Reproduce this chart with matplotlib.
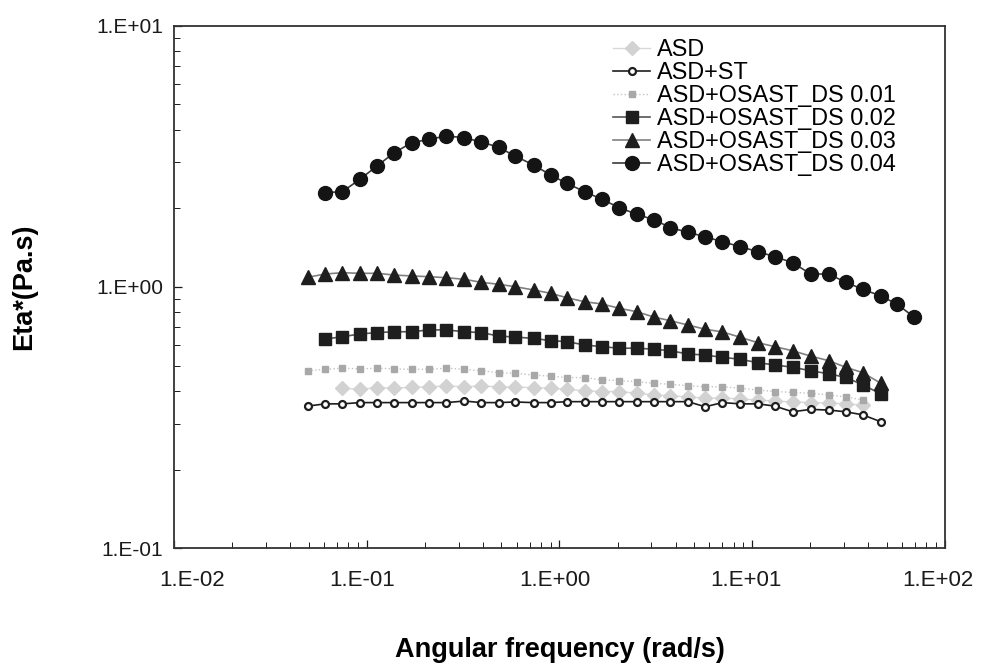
import numpy as np
import matplotlib
matplotlib.use('Agg')
import matplotlib.pyplot as plt
from matplotlib.ticker import LogLocator, NullFormatter, FixedLocator
from matplotlib.transforms import ScaledTranslation

plt.rcParams['font.family'] = ['Liberation Sans', 'DejaVu Sans']

# angular frequency grid (rad/s)
omega = [0.0494, 0.0607, 0.0747, 0.0923, 0.113, 0.139, 0.171, 0.211, 0.259,
         0.321, 0.393, 0.484, 0.587, 0.734, 0.899, 1.09, 1.35, 1.66, 2.04,
         2.52, 3.11, 3.76, 4.64, 5.70, 7.00, 8.67, 10.7, 13.1, 16.2, 20.1,
         25.0, 30.5, 37.5, 46.4, 56.2, 69.3]

# complex viscosity Eta* (Pa.s)
eta_asd = [0.410, 0.406, 0.412, 0.410, 0.413, 0.415, 0.418, 0.415, 0.418, 0.415,
           0.414, 0.412, 0.410, 0.406, 0.401, 0.398, 0.398, 0.392, 0.386, 0.383,
           0.380, 0.375, 0.376, 0.373, 0.369, 0.366, 0.363, 0.361, 0.360, 0.357,
           0.353]                                    # omega[2:33]
eta_st = [0.350, 0.357, 0.357, 0.361, 0.361, 0.361, 0.361, 0.361, 0.361, 0.366,
          0.361, 0.361, 0.363, 0.361, 0.361, 0.364, 0.364, 0.364, 0.364, 0.364,
          0.364, 0.364, 0.364, 0.348, 0.361, 0.357, 0.357, 0.350, 0.333, 0.340,
          0.338, 0.333, 0.324, 0.305]                # omega[0:34]
eta_ds01 = [0.478, 0.484, 0.489, 0.486, 0.489, 0.486, 0.484, 0.484, 0.489, 0.484,
            0.478, 0.470, 0.467, 0.460, 0.456, 0.450, 0.450, 0.441, 0.438, 0.434,
            0.428, 0.424, 0.419, 0.415, 0.415, 0.410, 0.403, 0.398, 0.395, 0.392,
            0.386, 0.380, 0.369]                     # omega[0:33]
eta_ds02 = [0.632, 0.645, 0.661, 0.669, 0.674, 0.674, 0.685, 0.685, 0.674, 0.669,
            0.649, 0.643, 0.636, 0.623, 0.618, 0.600, 0.591, 0.583, 0.583, 0.578,
            0.570, 0.554, 0.549, 0.538, 0.529, 0.513, 0.503, 0.493, 0.478, 0.465,
            0.451, 0.422, 0.390]                     # omega[1:34]
eta_ds03 = [1.089, 1.121, 1.134, 1.128, 1.128, 1.111, 1.102, 1.095, 1.085, 1.070,
            1.042, 1.024, 1.003, 0.974, 0.946, 0.910, 0.878, 0.861, 0.829, 0.804,
            0.766, 0.743, 0.715, 0.689, 0.673, 0.642, 0.612, 0.591, 0.570, 0.544,
            0.522, 0.493, 0.470, 0.428]              # omega[0:34]
eta_ds04 = [2.296, 2.316, 2.584, 2.905, 3.266, 3.566, 3.675, 3.783, 3.727, 3.588,
            3.424, 3.172, 2.930, 2.683, 2.494, 2.316, 2.166, 2.012, 1.897, 1.805,
            1.687, 1.619, 1.557, 1.490, 1.426, 1.365, 1.306, 1.239, 1.121, 1.121,
            1.042, 0.980, 0.924, 0.861, 0.766]       # omega[1:36]

labels = ['ASD', 'ASD+ST', 'ASD+OSAST_DS 0.01', 'ASD+OSAST_DS 0.02',
          'ASD+OSAST_DS 0.03', 'ASD+OSAST_DS 0.04']
xticklabels = ['1.E-02', '1.E-01', '1.E+00', '1.E+01', '1.E+02']
yticklabels = ['1.E-01', '1.E+00', '1.E+01']

fig = plt.figure(figsize=(9.92, 6.67), dpi=100)
ax = fig.add_axes([0.1754, 0.178, 0.7772, 0.7835])

# ___ series ___
ax.plot(omega[2:33], eta_asd, color='#d8d8d8', lw=1.0, marker='D', ms=7,
        mfc='#d2d2d2', mec='#d2d2d2', label=labels[0])
ax.plot(omega[0:34], eta_st, color='#1e1e1e', lw=1.2, marker='o', ms=5,
        mfc='white', mec='#1e1e1e', mew=1.6, label=labels[1])
ax.plot(omega[0:33], eta_ds01, color='#c4c4c4', lw=1.0, ls=':', marker='s', ms=4.5,
        mfc='#a8a8a8', mec='#a8a8a8', label=labels[2])
ax.plot(omega[1:34], eta_ds02, color='#555555', lw=1.2, marker='s', ms=8.5,
        mfc='#1e1e1e', mec='#1e1e1e', label=labels[3])
ax.plot(omega[0:34], eta_ds03, color='#808080', lw=1.2, marker='^', ms=9.5,
        mfc='#1e1e1e', mec='#1e1e1e', label=labels[4])
ax.plot(omega[1:36], eta_ds04, color='#3a3a3a', lw=1.2, marker='o', ms=10,
        mfc='#141414', mec='#141414', label=labels[5])

# ___ axes ___
ax.set_xscale('log')
ax.set_yscale('log')
ax.set_xlim(1e-2, 1e2)
ax.set_ylim(1e-1, 1e1)

ax.xaxis.set_major_locator(FixedLocator([1e-2, 1e-1, 1e0, 1e1, 1e2]))
ax.set_xticklabels(xticklabels)
ax.yaxis.set_major_locator(FixedLocator([1e-1, 1e0, 1e1]))
ax.set_yticklabels(yticklabels)
ax.xaxis.set_minor_locator(LogLocator(base=10, subs=np.arange(2, 10)))
ax.yaxis.set_minor_locator(LogLocator(base=10, subs=np.arange(2, 10)))
ax.xaxis.set_minor_formatter(NullFormatter())
ax.yaxis.set_minor_formatter(NullFormatter())

ax.tick_params(which='both', direction='in', top=False, right=False,
               colors='#1a1a1a')
ax.tick_params(axis='x', labelsize=16, pad=16)
ax.tick_params(axis='y', labelsize=15, pad=8)
ax.tick_params(which='major', length=6, width=0.9)
ax.tick_params(which='minor', length=4, width=0.7)
for sp in ax.spines.values():
    sp.set_linewidth(1.3)
    sp.set_color('#333333')

# small shifts of the x tick labels, like in the original
shifts = [18, -5, -5, -6, -7]
for lab, dx in zip(ax.get_xticklabels(), shifts):
    lab.set_transform(lab.get_transform() + ScaledTranslation(dx / 100, 0, fig.dpi_scale_trans))

ax.set_xlabel('Angular frequency (rad/s)', fontsize=19.5, fontweight='bold', labelpad=33)
ax.set_ylabel('Eta*(Pa.s)', fontsize=19.5, fontweight='bold', labelpad=42)

leg = ax.legend(loc='upper left', bbox_to_anchor=(613 / 992, 1 - 38 / 667),
                bbox_transform=fig.transFigure, frameon=False, fontsize=16.8,
                handlelength=1.6, handletextpad=0.3, labelspacing=0.0,
                borderpad=0, borderaxespad=0)

fig.savefig('out.png', dpi=100)
